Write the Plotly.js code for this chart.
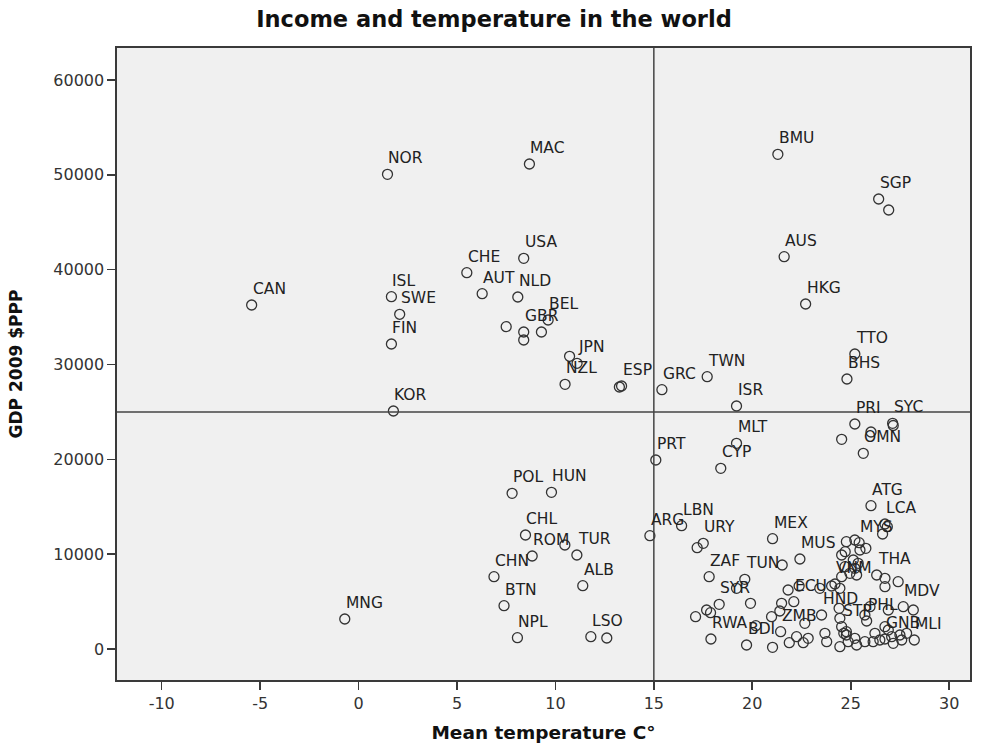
<!DOCTYPE html>
<html>
<head>
<meta charset="utf-8">
<script src="https://cdn.plot.ly/plotly-3.0.1.min.js"></script>
<style>html,body{margin:0;padding:0;background:#fff;}#chart{width:988px;height:749px;}</style>
</head>
<body>
<div id="chart"></div>
<script>
// Labelled countries
const labeledCodes = ["CAN","NOR","ISL","SWE","FIN","KOR","MNG","MAC","USA","CHE","AUT","NLD","BEL","GBR","JPN","NZL","ESP","GRC","TWN","ISR","BMU","SGP","AUS","HKG","TTO","BHS","PRI","SYC","OMN","MLT","CYP","PRT","POL","HUN","CHL","ROM","TUR","CHN","ALB","BTN","NPL","LSO","ARG","LBN","URY","MEX","MUS","ZAF","TUN","SYR","RWA","BDI","ECU","ZMB","HND","STP","VNM","ATG","LCA","MYS","THA","MDV","PHL","GNB","MLI"];
const labeledTemp = [-5.43,1.47,1.67,2.09,1.67,1.77,-0.70,8.68,8.39,5.50,6.28,8.09,9.63,8.39,11.10,10.49,13.36,15.41,17.71,19.20,21.30,26.42,21.62,22.71,25.21,24.81,25.21,27.13,25.64,19.20,18.40,15.10,7.80,9.80,8.48,8.82,11.09,6.88,11.39,7.39,8.07,11.80,14.80,16.41,17.51,21.03,22.42,17.81,19.62,18.32,17.90,19.71,22.11,21.44,23.52,24.54,24.20,26.03,26.74,25.43,26.32,27.67,25.81,26.74,28.23];
const labeledGdp = [36275,50058,37152,35295,32163,25098,3164,51144,41200,39682,37467,37119,34694,33428,30128,27913,27734,27343,28715,25625,52167,47453,41369,36381,31108,28472,23727,23800,20637,21690,19055,19930,16419,16524,12021,9807,9912,7624,6675,4566,1192,1297,11948,13002,11146,11632,9490,7624,7350,4714,1055,422,4988,1824,3585,2352,6854,15111,13182,11210,7803,4461,2953,1055,949];

// Unlabelled countries
const otherTemp = [7.50,9.29,8.39,10.72,13.25,26.93,27.16,26.03,24.54,12.61,10.48,17.20,21.52,19.20,19.91,17.68,17.88,17.12,20.18,21.03,21.49,21.40,20.98,21.82,21.88,22.25,22.59,22.84,22.38,22.67,23.43,24.03,24.45,24.41,24.45,23.69,23.78,24.65,24.78,24.45,24.87,25.21,25.30,25.72,25.98,26.14,26.23,26.48,26.74,26.91,27.08,27.16,27.50,27.84,27.59,26.91,28.18,27.41,26.74,26.74,26.86,26.62,24.78,25.21,24.72,25.47,25.77,24.54,25.13,25.38,24.71,25.21,25.30,24.54,24.96,25.72,24.78];
const otherGdp = [33987,33428,32585,30866,27628,46293,23570,22883,22113,1160,10967,10682,8858,6401,4819,4113,3828,3406,2457,179,4819,4007,3406,6222,664,1297,664,1128,6643,2710,6401,6643,6401,4292,3237,1656,770,1656,1476,243,770,1128,422,770,4461,770,1656,949,2352,2004,1297,601,1476,1656,949,4113,4113,7097,7455,6570,12897,12127,11315,11494,10261,10440,10619,9913,9385,9037,8679,8510,7803,7624,7983,3585,1824];

const xTicks = [-10,-5,0,5,10,15,20,25,30];
const xTickText = ["-10","-5","0","5","10","15","20","25","30"];
const yTicks = [0,10000,20000,30000,40000,50000,60000];
const refTemp = 15;
const refGdp = 25000;

const FONT = "DejaVu Sans, Liberation Sans, sans-serif";
const marker = {symbol:"circle-open", size:10, color:"#333", line:{width:1.3, color:"#333"}};

const traces = [
  {x: labeledTemp, y: labeledGdp, type:"scatter", mode:"markers", marker: marker, text: labeledCodes, hoverinfo:"text+x+y", cliponaxis:false},
  {x: otherTemp, y: otherGdp, type:"scatter", mode:"markers", marker: marker, hoverinfo:"x+y", cliponaxis:false}
];

const annotations = labeledCodes.map((c,i)=>({
  x: labeledTemp[i], y: labeledGdp[i], xref:"x", yref:"y", text:c,
  showarrow:false, xanchor:"left", yanchor:"middle", xshift:-1, yshift:16,
  font:{family:FONT, size:15.5, color:"#222"}
}));

const axisCommon = {showline:true, linecolor:"#3a3a3a", linewidth:1.6, mirror:true, ticks:"outside", ticklen:8, tickwidth:1.6, tickcolor:"#3a3a3a", showgrid:false, zeroline:false, tickfont:{family:FONT, size:16, color:"#333"}};

const layout = {
  width:988, height:749,
  margin:{l:117, r:18, t:48, b:69},
  paper_bgcolor:"#ffffff", plot_bgcolor:"#f0f0f0",
  showlegend:false,
  title:{text:"Income and temperature in the world", font:{family:FONT, size:22.5, color:"#111", weight:"bold"}, x:0.5, xanchor:"center", y:0.975, yanchor:"middle"},
  xaxis: Object.assign({}, axisCommon, {range:[-12.27,31.06], tickvals:xTicks, ticktext:xTickText,
    title:{text:"<b>Mean temperature C°</b>", font:{family:FONT, size:18.5, color:"#111"}, standoff:14}}),
  yaxis: Object.assign({}, axisCommon, {range:[-3269,63376], tickvals:yTicks, tickformat:"d",
    title:{text:"<b>GDP 2009 $PPP</b>", font:{family:FONT, size:17, color:"#111"}, standoff:26}}),
  shapes:[
    {type:"line", xref:"x", yref:"paper", x0:refTemp, x1:refTemp, y0:0, y1:1, line:{color:"#444", width:1.5}},
    {type:"line", xref:"paper", yref:"y", x0:0, x1:1, y0:refGdp, y1:refGdp, line:{color:"#444", width:1.5}}
  ],
  annotations: annotations
};

Plotly.newPlot("chart", traces, layout, {displayModeBar:false, staticPlot:true});
</script>
</body>
</html>
